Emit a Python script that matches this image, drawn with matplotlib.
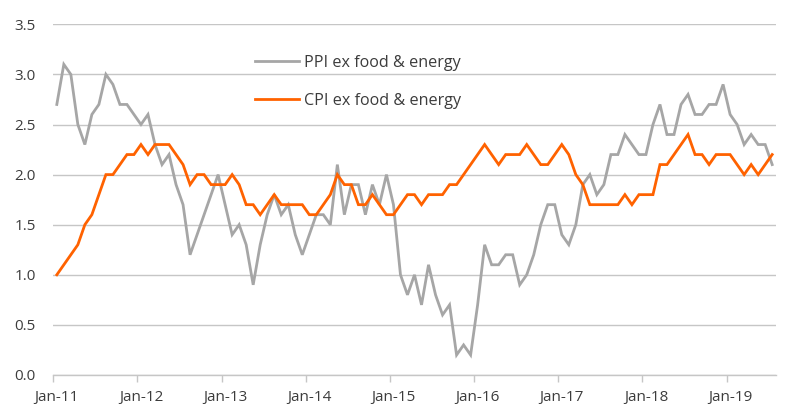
import matplotlib
matplotlib.use("Agg")
import matplotlib.pyplot as plt
import numpy as np
import pandas as pd

plt.rcParams['font.family'] = ['Open Sans', 'DejaVu Sans']

start_month = "2011-01"
n_months = 103

ppi = [2.7, 3.1, 3.0, 2.5, 2.3, 2.6, 2.7, 3.0, 2.9, 2.7, 2.7, 2.6,
       2.5, 2.6, 2.3, 2.1, 2.2, 1.9, 1.7, 1.2, 1.4, 1.6, 1.8, 2.0,
       1.7, 1.4, 1.5, 1.3, 0.9, 1.3, 1.6, 1.8, 1.6, 1.7, 1.4, 1.2,
       1.4, 1.6, 1.6, 1.5, 2.1, 1.6, 1.9, 1.9, 1.6, 1.9, 1.7, 2.0,
       1.7, 1.0, 0.8, 1.0, 0.7, 1.1, 0.8, 0.6, 0.7, 0.2, 0.3, 0.2,
       0.7, 1.3, 1.1, 1.1, 1.2, 1.2, 0.9, 1.0, 1.2, 1.5, 1.7, 1.7,
       1.4, 1.3, 1.5, 1.9, 2.0, 1.8, 1.9, 2.2, 2.2, 2.4, 2.3, 2.2,
       2.2, 2.5, 2.7, 2.4, 2.4, 2.7, 2.8, 2.6, 2.6, 2.7, 2.7, 2.9,
       2.6, 2.5, 2.3, 2.4, 2.3, 2.3, 2.1]

cpi = [1.0, 1.1, 1.2, 1.3, 1.5, 1.6, 1.8, 2.0, 2.0, 2.1, 2.2, 2.2,
       2.3, 2.2, 2.3, 2.3, 2.3, 2.2, 2.1, 1.9, 2.0, 2.0, 1.9, 1.9,
       1.9, 2.0, 1.9, 1.7, 1.7, 1.6, 1.7, 1.8, 1.7, 1.7, 1.7, 1.7,
       1.6, 1.6, 1.7, 1.8, 2.0, 1.9, 1.9, 1.7, 1.7, 1.8, 1.7, 1.6,
       1.6, 1.7, 1.8, 1.8, 1.7, 1.8, 1.8, 1.8, 1.9, 1.9, 2.0, 2.1,
       2.2, 2.3, 2.2, 2.1, 2.2, 2.2, 2.2, 2.3, 2.2, 2.1, 2.1, 2.2,
       2.3, 2.2, 2.0, 1.9, 1.7, 1.7, 1.7, 1.7, 1.7, 1.8, 1.7, 1.8,
       1.8, 1.8, 2.1, 2.1, 2.2, 2.3, 2.4, 2.2, 2.2, 2.1, 2.2, 2.2,
       2.2, 2.1, 2.0, 2.1, 2.0, 2.1, 2.2]

labels = ["PPI ex food & energy", "CPI ex food & energy"]
yticks = [0.0, 0.5, 1.0, 1.5, 2.0, 2.5, 3.0, 3.5]

dates = pd.period_range(start_month, periods=n_months, freq="M")
cats = np.arange(n_months)
xtick_pos = [i for i, d in enumerate(dates) if d.month == 1]
xtick_lab = [dates[i].strftime("Jan-%y") for i in xtick_pos]

GREY = "#a6a6a6"
ORANGE = "#ff6200"
GRID = "#c6c6c6"
TXT = "#3c3c3c"

fig = plt.figure(figsize=(8.0, 4.12), dpi=100)
ax = fig.add_axes([53.3 / 800, 37 / 412, (775.7 - 53.3) / 800, (375 - 24.3) / 412])

ax.plot(cats, ppi, color=GREY, lw=2.0, label=labels[0], solid_joinstyle="miter")
ax.plot(cats, cpi, color=ORANGE, lw=2.0, label=labels[1], solid_joinstyle="miter")

ax.set_xlim(-0.5, n_months - 0.5)
ax.set_ylim(0, 3.5)
ax.set_yticks(yticks)
ax.set_yticklabels([f"{v:.1f}" for v in yticks])
ax.yaxis.grid(True, color=GRID, lw=1.0)
ax.set_axisbelow(True)

ax.set_xticks(xtick_pos)
ax.set_xticklabels(xtick_lab)
ax.set_xticks([p - 0.5 for p in xtick_pos], minor=True)
ax.tick_params(axis="x", which="major", length=0, pad=10.5, labelsize=11, colors=TXT)
ax.tick_params(axis="x", which="minor", length=5, width=1.0, color=GRID, direction="out")
ax.tick_params(axis="y", which="both", length=0, pad=12.5, labelsize=11, colors=TXT)

for s in ["top", "right", "left"]:
    ax.spines[s].set_visible(False)
ax.spines["bottom"].set_color(GRID)
ax.spines["bottom"].set_linewidth(1.0)

leg = fig.legend(loc="upper left", bbox_to_anchor=(255 / 800, 1 - 55 / 412),
                 frameon=False, fontsize=11.6, handlelength=2.75, handletextpad=0.3,
                 labelspacing=1.35, borderpad=0, borderaxespad=0)
for t in leg.get_texts():
    t.set_color(TXT)

fig.savefig("out.png", dpi=100)
